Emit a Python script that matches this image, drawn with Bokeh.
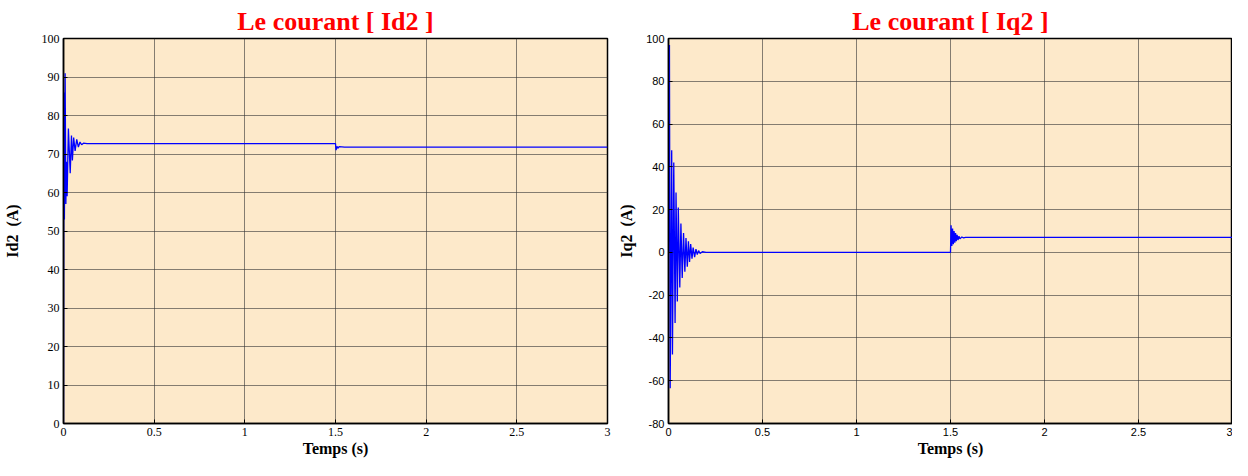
from bokeh.plotting import figure
from bokeh.layouts import row
from bokeh.models import FixedTicker, Range1d, NumeralTickFormatter
from bokeh.embed import file_html
from bokeh.resources import INLINE

# ---------------- data ----------------
x_ticks = [0, 0.5, 1, 1.5, 2, 2.5, 3]
x_tick_labels = ["0", "0.5", "1", "1.5", "2", "2.5", "3"]
id2_y_ticks = [0, 10, 20, 30, 40, 50, 60, 70, 80, 90, 100]
iq2_y_ticks = [-80, -60, -40, -20, 0, 20, 40, 60, 80, 100]

id2_t = [0.0, 0.002, 0.005, 0.009, 0.013, 0.016, 0.020, 0.027, 0.037, 0.044,
         0.049, 0.056, 0.064, 0.073, 0.082, 0.091, 0.100, 0.110, 0.130,
         1.500, 1.503, 1.508, 1.513, 1.520, 1.550, 3.0]
id2_v = [0.0, 86.0, 53.0, 91.0, 57.0, 68.0, 59.0, 76.6, 65.0, 74.8,
         68.3, 74.3, 70.8, 73.8, 71.8, 73.1, 72.4, 72.8, 72.7,
         72.7, 71.0, 72.0, 71.5, 71.9, 71.8, 71.8]

iq2_t = [0.0, 0.005, 0.009, 0.017, 0.021, 0.028, 0.035, 0.040, 0.047, 0.052,
         0.060, 0.066, 0.073, 0.080, 0.087, 0.093, 0.100, 0.106, 0.112, 0.118,
         0.125, 0.131, 0.139, 0.146, 0.153, 0.160, 0.168, 0.180, 0.200,
         1.500, 1.503, 1.507, 1.511, 1.515, 1.519, 1.523, 1.527, 1.531, 1.535,
         1.540, 1.545, 1.550, 1.560, 1.570, 1.580, 3.0]
iq2_v = [0.0, 97.0, -63.5, 47.8, -47.7, 42.0, -33.0, 28.0, -23.0, 21.0,
         -16.4, 13.5, -12.0, 9.0, -9.0, 6.7, -6.7, 5.2, -4.5, 3.9,
         -3.0, 2.2, -2.2, 1.5, -1.0, 0.8, -0.5, 0.3, 0.0,
         0.0, 12.7, 3.0, 11.2, 3.8, 10.0, 4.5, 9.0, 5.2, 8.2,
         5.8, 7.6, 6.3, 7.2, 6.8, 7.0, 7.0]

BG = "#FDE9CA"
SERIF = "Liberation Serif"
SANS = "Liberation Sans"


def make_fig(title, ylabel, t, v, yticks, ymin, ymax, tick_font, tick_size,
             width, bl, br, ylab_standoff):
    p = figure(width=width, height=460, output_backend="svg", toolbar_location=None,
               x_range=Range1d(0, 3), y_range=Range1d(ymin, ymax),
               min_border_left=bl, min_border_right=br,
               min_border_top=38, min_border_bottom=37)
    p.background_fill_color = BG
    p.border_fill_color = "white"
    p.outline_line_color = "black"
    p.outline_line_width = 1.5

    p.title.text = title
    p.title.align = "center"
    p.title.text_color = "#FF0000"
    p.title.text_font = SERIF
    p.title.text_font_style = "bold"
    p.title.text_font_size = "26px"
    p.title.standoff = 5

    p.line(t, v, line_color="#0000FF", line_width=1.3)

    p.xaxis.ticker = FixedTicker(ticks=x_ticks)
    p.xaxis.formatter = NumeralTickFormatter(format="0.[0]")
    p.xaxis.major_label_overrides = {float(k): s for k, s in zip(x_ticks, x_tick_labels)}
    p.yaxis.ticker = FixedTicker(ticks=yticks)
    p.yaxis.formatter = NumeralTickFormatter(format="0")

    for ax in (p.xaxis[0], p.yaxis[0]):
        ax.axis_line_color = "black"
        ax.axis_line_width = 1.5
        ax.major_tick_in = 4
        ax.major_tick_out = 0
        ax.major_tick_line_color = "black"
        ax.minor_tick_line_color = None
        ax.major_label_text_font = tick_font
        ax.major_label_text_font_size = tick_size
        ax.major_label_text_color = "black"
        ax.major_label_standoff = 4
        ax.axis_label_text_font = SERIF
        ax.axis_label_text_font_style = "bold"
        ax.axis_label_text_font_size = "16px"
        ax.axis_label_text_color = "black"

    p.xaxis.axis_label = "Temps (s)"
    p.xaxis.axis_label_standoff = 1
    p.yaxis.axis_label = ylabel
    p.yaxis.axis_label_standoff = ylab_standoff

    p.xgrid.ticker = FixedTicker(ticks=x_ticks)
    p.ygrid.ticker = FixedTicker(ticks=yticks)
    for g in (p.xgrid[0], p.ygrid[0]):
        g.grid_line_color = "#333333"
        g.grid_line_alpha = 0.6
        g.grid_line_width = 1
    return p


p1 = make_fig("Le courant [ Id2 ]", "Id2\u00a0 (A)", id2_t, id2_v, id2_y_ticks, 0, 100,
              SERIF, "12px", 613, 59, 6, 18)
p2 = make_fig("Le courant [ Iq2 ]", "Iq2\u00a0 (A)", iq2_t, iq2_v, iq2_y_ticks, -80, 100,
              SANS, "11px", 619, 55, 0, 8)

layout = row(p1, p2)
open("out.html", "w").write(file_html(layout, INLINE))
